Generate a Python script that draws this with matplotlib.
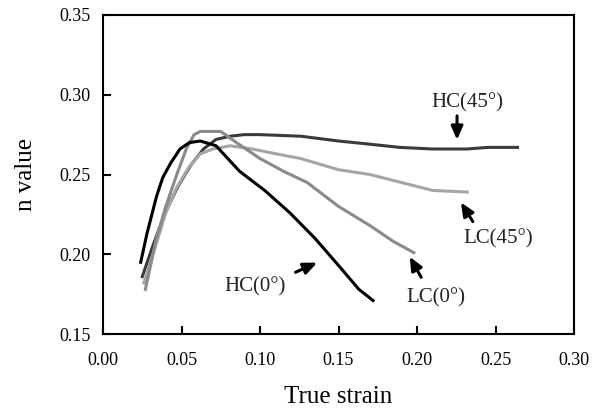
import matplotlib.pyplot as plt
import numpy as np

plt.rcParams['font.family'] = 'Liberation Serif'

# curves (true strain, n value)
hc0_x = [0.024, 0.028, 0.034, 0.038, 0.043, 0.049, 0.055, 0.062, 0.072, 0.087, 0.103, 0.119, 0.135, 0.150, 0.163, 0.172]
hc0_y = [0.195, 0.213, 0.236, 0.248, 0.257, 0.266, 0.270, 0.271, 0.268, 0.252, 0.240, 0.226, 0.210, 0.193, 0.178, 0.171]

lc0_x = [0.027, 0.034, 0.040, 0.047, 0.053, 0.058, 0.062, 0.075, 0.085, 0.100, 0.115, 0.130, 0.150, 0.170, 0.185, 0.198]
lc0_y = [0.178, 0.210, 0.230, 0.250, 0.266, 0.275, 0.277, 0.277, 0.270, 0.260, 0.252, 0.245, 0.230, 0.218, 0.208, 0.201]

lc45_x = [0.026, 0.034, 0.040, 0.047, 0.055, 0.062, 0.070, 0.081, 0.095, 0.110, 0.126, 0.150, 0.170, 0.190, 0.210, 0.232]
lc45_y = [0.182, 0.207, 0.226, 0.242, 0.255, 0.263, 0.266, 0.268, 0.266, 0.263, 0.260, 0.253, 0.250, 0.245, 0.240, 0.239]

hc45_x = [0.025, 0.032, 0.040, 0.048, 0.056, 0.064, 0.072, 0.081, 0.090, 0.100, 0.126, 0.150, 0.170, 0.189, 0.210, 0.232, 0.245, 0.264]
hc45_y = [0.186, 0.206, 0.227, 0.243, 0.256, 0.266, 0.272, 0.274, 0.275, 0.275, 0.274, 0.271, 0.269, 0.267, 0.266, 0.266, 0.267, 0.267]

labels = ['HC(0°)', 'LC(0°)', 'LC(45°)', 'HC(45°)']
text_pos = [(0.0968, 0.1795), (0.212, 0.173), (0.2516, 0.2096), (0.232, 0.2948)]
arrow_tail = [(0.121, 0.188), (0.2035, 0.184), (0.2365, 0.219), (0.2255, 0.2885)]
arrow_head = [(0.138, 0.1955), (0.1945, 0.200), (0.227, 0.234), (0.2255, 0.270)]

fig = plt.figure(figsize=(6, 4.16), dpi=100)
ax = fig.add_axes([0.1717, 0.197, 0.785, 0.767])

ax.plot(hc45_x, hc45_y, color='#3a3a3a', lw=2.2)
ax.plot(lc45_x, lc45_y, color='#a5a5a5', lw=2.2)
ax.plot(lc0_x, lc0_y, color='#8a8a8a', lw=2.2)
ax.plot(hc0_x, hc0_y, color='black', lw=2.2)

for lab, tp, tail, head in zip(labels, text_pos, arrow_tail, arrow_head):
    ax.text(tp[0], tp[1], lab, fontsize=15, ha='center', va='center', color='#222222')
    ax.annotate('', xy=head, xytext=tail,
                arrowprops=dict(arrowstyle='-|>,head_width=0.35,head_length=0.8', color='black', lw=2.2))

ax.set_xlim(0, 0.30)
ax.set_ylim(0.15, 0.35)
ax.set_xticks(np.arange(0, 0.31, 0.05))
ax.set_yticks(np.arange(0.15, 0.351, 0.05))
ax.set_xticklabels(['%.2f' % v for v in np.arange(0, 0.31, 0.05)])
ax.set_yticklabels(['%.2f' % v for v in np.arange(0.15, 0.351, 0.05)])
ax.tick_params(direction='in', length=6, width=1.5, labelsize=13)
ax.tick_params(axis='x', pad=13)
ax.tick_params(axis='y', pad=9)
for s in ax.spines.values():
    s.set_linewidth(1.5)

ax.set_xlabel('True strain', fontsize=18, labelpad=12)
ax.set_ylabel('n value', fontsize=18, labelpad=16)

fig.savefig('out.png', dpi=100)
